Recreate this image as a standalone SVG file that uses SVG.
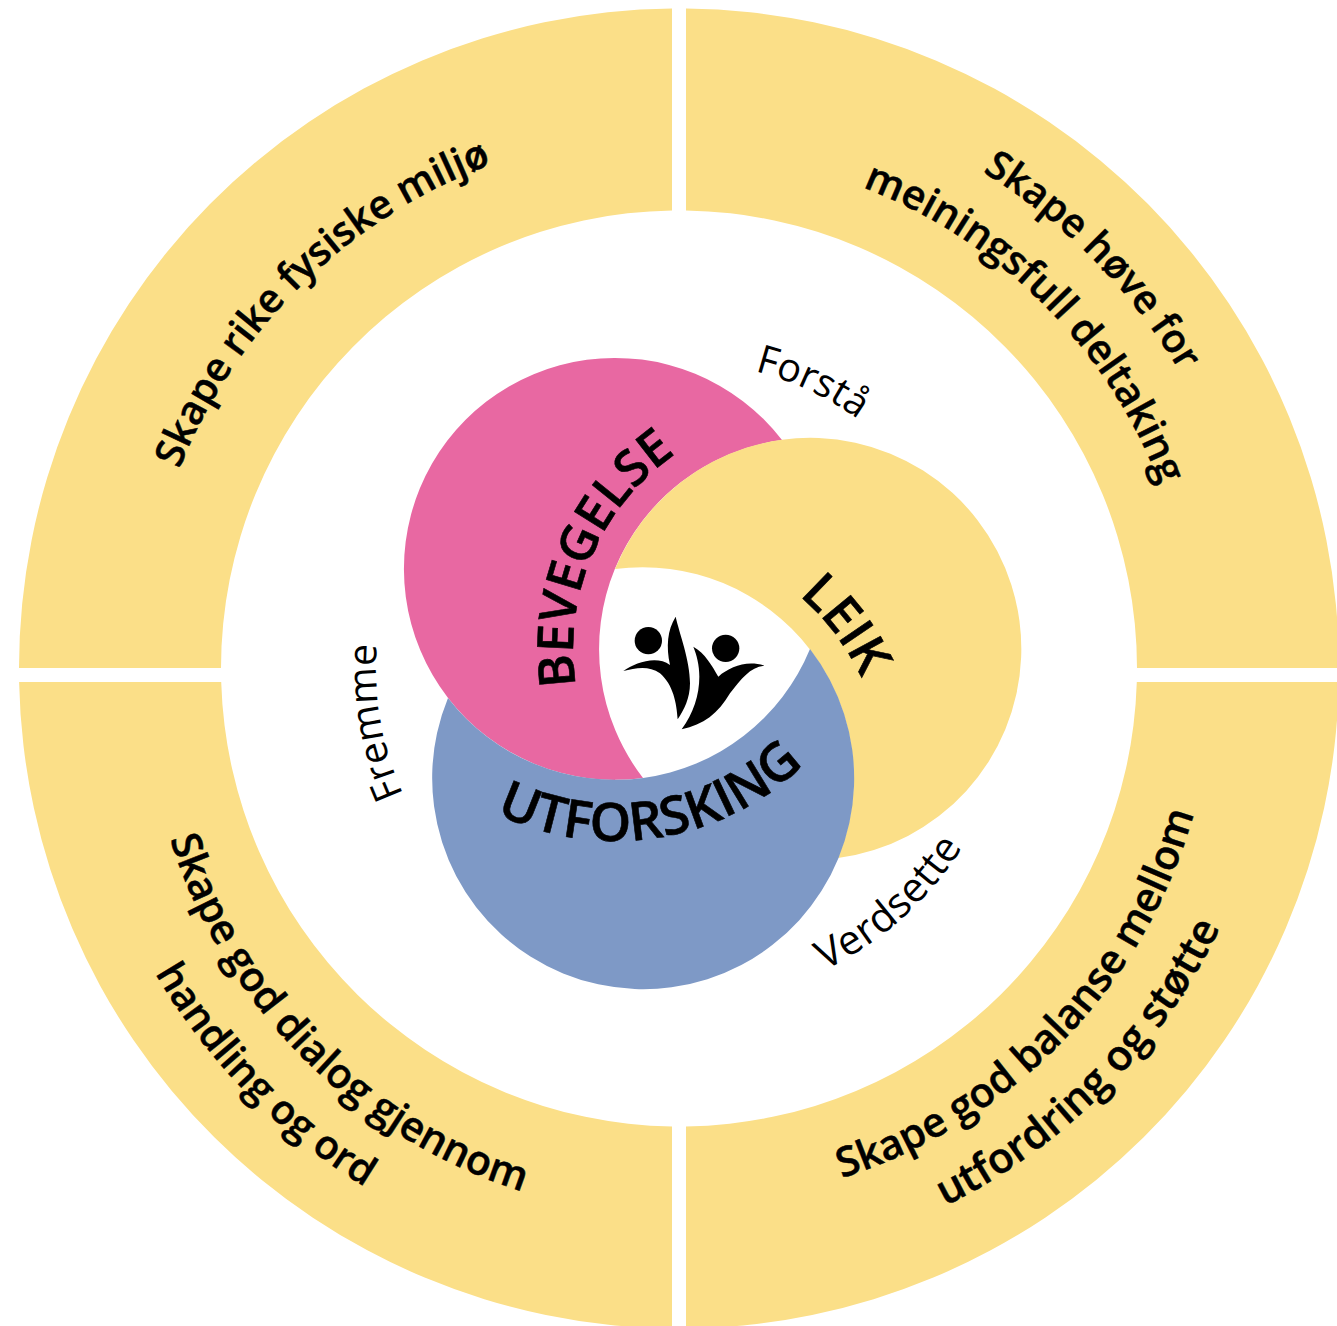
<svg xmlns="http://www.w3.org/2000/svg" width="1337" height="1326" viewBox="0 0 1337 1326">
<style>
.ring{fill:#FBDF88}
text{font-family:"Open Sans","Noto Sans","Liberation Sans",sans-serif;fill:#000}
.r{font-size:41px;font-weight:600;stroke:#000;stroke-width:.5px}
.c{font-size:53px;font-weight:600;stroke:#000;stroke-width:.6px}
.l{font-size:39.5px;font-weight:400}
</style>
<defs>
<path id="tl" d="M141 668.5A538 538 0 0 1 1217 668.5"/>
<path id="tr1" d="M97 668.5A582 582 0 0 1 1261 668.5"/>
<path id="tr2" d="M164 668.5A515 515 0 0 1 1194 668.5"/>
<path id="bl1" d="M139 668.5A540 540 0 0 0 1219 668.5"/>
<path id="bl2" d="M73 668.5A606 606 0 0 0 1285 668.5"/>
<path id="br1" d="M144 668.5A535 535 0 0 0 1214 668.5"/>
<path id="br2" d="M79 668.5A600 600 0 0 0 1279 668.5"/>
<path id="bev" d="M573 649A237 237 0 0 1 1047 649"/>
<path id="lei" d="M403 778A240 240 0 0 1 883 778"/>
<path id="utf" d="M343 569A272 272 0 0 0 887 569"/>
<path id="for" d="M372 668.5A307 307 0 0 1 986 668.5"/>
<path id="fre" d="M376 668.5A303 303 0 0 1 982 668.5"/>
<path id="ver" d="M344 668.5A335 335 0 0 0 1014 668.5"/>
</defs>
<rect width="1337" height="1326" fill="#fff"/>
<g id="sector-top-left">
<path class="ring" d="M672 8.5V210.5A458 458 0 0 0 221 668H19A660 660 0 0 1 672 8.5Z"/>
<text class="r" style="font-size:40px" transform="rotate(-44.3 679 668.5)" text-anchor="middle"><textPath href="#tl" startOffset="50%">Skape rike fysiske miljø</textPath></text>
</g>
<g id="sector-top-right">
<path class="ring" d="M686 8.5V210.5A458 458 0 0 1 1137 668H1339A660 660 0 0 0 686 8.5Z"/>
<text class="r" style="font-size:39.5px" transform="rotate(45.4 679 668.5)" text-anchor="middle"><textPath href="#tr1" startOffset="50%">Skape høve for</textPath></text>
<text class="r" style="font-size:40.5px" transform="rotate(45 679 668.5)" text-anchor="middle"><textPath href="#tr2" startOffset="50%">meiningsfull deltaking</textPath></text>
</g>
<g id="sector-bottom-left">
<path class="ring" d="M672 1328.5V1126.5A458 458 0 0 1 221.2 682H19.1A660 660 0 0 0 672 1328.5Z"/>
<text class="r" transform="translate(6 8) rotate(45 679 668.5)" text-anchor="middle"><textPath href="#bl1" startOffset="50%">Skape god dialog gjennom</textPath></text>
<text class="r" style="font-size:40px" transform="rotate(45.5 679 668.5)" text-anchor="middle"><textPath href="#bl2" startOffset="50%">handling og ord</textPath></text>
</g>
<g id="sector-bottom-right">
<path class="ring" d="M686 1328.5V1126.5A458 458 0 0 0 1136.8 682H1338.9A660 660 0 0 1 686 1328.5Z"/>
<text class="r" transform="rotate(-46 679 668.5)" text-anchor="middle"><textPath href="#br1" startOffset="50%">Skape god balanse mellom</textPath></text>
<text class="r" style="font-size:42px" transform="rotate(-45.4 679 668.5)" text-anchor="middle"><textPath href="#br2" startOffset="50%">utfordring og støtte</textPath></text>
</g>
<g id="bevegelse">
<path fill="#E868A2" d="M782 440A211 211 0 1 0 643 778A211 211 0 0 1 782 440Z"/>
<text class="c" style="font-size:50px" transform="rotate(-66.7 810 649)" text-anchor="middle"><textPath href="#bev" startOffset="50%">BEVEGELSE</textPath></text>
</g>
<g id="leik">
<path fill="#FBDF88" d="M615 569A211 211 0 1 1 838 858A211 211 0 0 0 615 569Z"/>
<text class="c" style="font-size:51px" transform="rotate(53 643 778)" text-anchor="middle"><textPath href="#lei" startOffset="50%">LEIK</textPath></text>
</g>
<g id="utforsking">
<path fill="#7E99C6" d="M810 649A211 211 0 1 1 448 698A211 211 0 0 0 810 649Z"/>
<text class="c" transform="rotate(-9 615 569)" text-anchor="middle"><textPath href="#utf" startOffset="50%">UTFORSKING</textPath></text>
</g>
<g id="forsta"><text class="l" transform="rotate(25 679 668.5)" text-anchor="middle"><textPath href="#for" startOffset="50%">Forstå</textPath></text></g>
<g id="fremme"><text class="l" transform="rotate(-100 679 668.5)" text-anchor="middle"><textPath href="#fre" startOffset="50%">Fremme</textPath></text></g>
<g id="verdsette"><text class="l" style="font-size:41px;letter-spacing:.4px" transform="rotate(-41.8 679 668.5)" text-anchor="middle"><textPath href="#ver" startOffset="50%">Verdsette</textPath></text></g>
<g id="logo" transform="translate(580 550) scale(.33333)">
<circle cx="205" cy="272" r="41"/>
<circle cx="437" cy="295" r="41"/>
<path d="M287 200C298 250 330 330 330 400C330 445 312 480 293 508C290 460 280 405 240 370C205 345 165 355 130 363C165 338 230 315 270 345C258 290 262 240 287 200Z"/>
<path d="M340 290C375 310 395 345 415 380C450 350 500 330 553 347C510 352 485 385 450 430C415 490 370 525 305 538C340 490 358 435 358 380C358 345 350 315 340 290Z"/>
</g>
</svg>
